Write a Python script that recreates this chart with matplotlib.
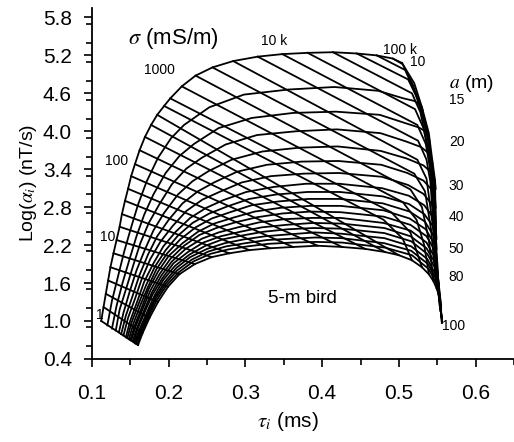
import matplotlib
matplotlib.use('Agg')
import matplotlib.pyplot as plt
from matplotlib.ticker import MultipleLocator

plt.rcParams['font.family'] = ['Liberation Sans', 'DejaVu Sans']
plt.rcParams['mathtext.fontset'] = 'stix'

# radius of the body, one curve each (m)
radius = [10, 15, 20, 25, 30, 35, 40, 45, 50, 55, 60, 65, 70, 75, 80, 85, 90, 95, 100]

# a = 10 m curve (upper / left edge), one node per conductivity step
# (6 steps per decade, 1 mS/m ... 100k mS/m)
tau_a10 = [0.112, 0.115, 0.118, 0.121, 0.124, 0.128, 0.132, 0.136, 0.139, 0.143, 0.147,
           0.151, 0.156, 0.162, 0.169, 0.177, 0.185, 0.194, 0.202, 0.217, 0.235,
           0.257, 0.284, 0.316, 0.348, 0.381, 0.414, 0.445, 0.471, 0.492, 0.504]
log_a10 = [1.00, 1.22, 1.43, 1.64, 1.85, 2.07, 2.28, 2.49, 2.69, 2.90, 3.09,
           3.29, 3.48, 3.70, 3.91, 4.10, 4.26, 4.40, 4.52, 4.71, 4.88,
           5.01, 5.11, 5.18, 5.22, 5.24, 5.25, 5.23, 5.20, 5.15, 5.08]

# a = 100 m curve (lower edge), same conductivity steps
tau_a100 = [0.160, 0.166, 0.175, 0.186, 0.199, 0.214, 0.234, 0.256, 0.279, 0.305, 0.332,
            0.362, 0.394, 0.426, 0.456, 0.482, 0.500, 0.517, 0.530, 0.539, 0.545,
            0.549, 0.552, 0.553, 0.555, 0.555, 0.555, 0.556, 0.556, 0.556, 0.556]
log_a100 = [0.62, 0.81, 1.05, 1.30, 1.54, 1.74, 1.90, 2.01, 2.07, 2.12, 2.15,
            2.17, 2.19, 2.17, 2.14, 2.09, 2.04, 1.96, 1.85, 1.74, 1.63,
            1.52, 1.41, 1.32, 1.24, 1.17, 1.11, 1.06, 1.03, 1.00, 0.97]

# radius curves in between
tau_a = {
    15: [0.120, 0.126, 0.134, 0.142, 0.151, 0.160, 0.171, 0.186, 0.203, 0.220, 0.253, 0.298, 0.356, 0.416, 0.473, 0.506, 0.520, 0.528, 0.530, 0.531],
    20: [0.126, 0.132, 0.140, 0.149, 0.158, 0.168, 0.180, 0.196, 0.214, 0.233, 0.265, 0.308, 0.362, 0.418, 0.475, 0.508, 0.526, 0.537, 0.539, 0.540],
    25: [0.131, 0.136, 0.145, 0.154, 0.163, 0.174, 0.188, 0.204, 0.223, 0.243, 0.274, 0.315, 0.366, 0.419, 0.476, 0.509, 0.529, 0.540, 0.543, 0.544],
    30: [0.135, 0.141, 0.149, 0.158, 0.169, 0.180, 0.194, 0.212, 0.231, 0.252, 0.282, 0.322, 0.370, 0.420, 0.476, 0.510, 0.532, 0.544, 0.547, 0.548],
    35: [0.138, 0.144, 0.153, 0.162, 0.173, 0.185, 0.200, 0.218, 0.238, 0.259, 0.289, 0.328, 0.373, 0.421, 0.477, 0.511, 0.532, 0.544, 0.547, 0.548],
    40: [0.141, 0.147, 0.156, 0.165, 0.176, 0.189, 0.205, 0.223, 0.244, 0.266, 0.295, 0.333, 0.376, 0.422, 0.478, 0.512, 0.532, 0.544, 0.547, 0.548],
    45: [0.144, 0.150, 0.159, 0.168, 0.180, 0.193, 0.209, 0.228, 0.249, 0.271, 0.301, 0.337, 0.379, 0.422, 0.478, 0.513, 0.533, 0.545, 0.548, 0.549],
    50: [0.146, 0.152, 0.161, 0.171, 0.182, 0.196, 0.212, 0.231, 0.253, 0.276, 0.305, 0.340, 0.381, 0.423, 0.479, 0.513, 0.533, 0.545, 0.548, 0.549],
    55: [0.148, 0.154, 0.163, 0.173, 0.184, 0.198, 0.215, 0.235, 0.256, 0.280, 0.308, 0.343, 0.382, 0.423, 0.479, 0.514, 0.534, 0.545, 0.548, 0.549],
    60: [0.150, 0.156, 0.165, 0.174, 0.186, 0.200, 0.218, 0.238, 0.259, 0.283, 0.312, 0.346, 0.384, 0.424, 0.480, 0.514, 0.535, 0.546, 0.549, 0.550],
    65: [0.151, 0.157, 0.166, 0.176, 0.188, 0.202, 0.220, 0.240, 0.262, 0.287, 0.315, 0.348, 0.385, 0.424, 0.480, 0.515, 0.536, 0.547, 0.550, 0.551],
    70: [0.153, 0.159, 0.168, 0.178, 0.190, 0.204, 0.222, 0.243, 0.265, 0.290, 0.318, 0.351, 0.387, 0.424, 0.480, 0.515, 0.536, 0.547, 0.550, 0.551],
    75: [0.154, 0.160, 0.169, 0.179, 0.192, 0.206, 0.225, 0.245, 0.268, 0.293, 0.321, 0.353, 0.388, 0.425, 0.481, 0.515, 0.536, 0.548, 0.551, 0.552],
    80: [0.155, 0.162, 0.171, 0.181, 0.193, 0.208, 0.227, 0.248, 0.270, 0.295, 0.323, 0.355, 0.389, 0.425, 0.481, 0.516, 0.537, 0.549, 0.552, 0.553],
    85: [0.156, 0.163, 0.172, 0.182, 0.195, 0.210, 0.228, 0.250, 0.273, 0.298, 0.326, 0.357, 0.390, 0.425, 0.481, 0.516, 0.537, 0.549, 0.552, 0.553],
    90: [0.157, 0.164, 0.173, 0.183, 0.196, 0.211, 0.230, 0.252, 0.275, 0.300, 0.328, 0.359, 0.391, 0.425, 0.481, 0.516, 0.538, 0.550, 0.553, 0.554],
    95: [0.159, 0.165, 0.174, 0.184, 0.197, 0.213, 0.232, 0.254, 0.277, 0.303, 0.330, 0.361, 0.392, 0.426, 0.482, 0.517, 0.539, 0.551, 0.554, 0.555],
}
log_a = {
    15: [0.93, 1.32, 1.71, 2.10, 2.48, 2.84, 3.20, 3.58, 3.89, 4.10, 4.38, 4.58, 4.66, 4.70, 4.64, 4.52, 4.48, 4.42, 4.38, 4.33],
    20: [0.88, 1.24, 1.61, 1.98, 2.34, 2.68, 3.00, 3.34, 3.61, 3.80, 4.05, 4.21, 4.29, 4.31, 4.26, 4.13, 4.06, 3.98, 3.91, 3.83],
    25: [0.85, 1.18, 1.53, 1.89, 2.23, 2.55, 2.85, 3.16, 3.41, 3.58, 3.79, 3.94, 4.00, 4.03, 3.97, 3.84, 3.75, 3.64, 3.56, 3.45],
    30: [0.82, 1.13, 1.46, 1.80, 2.13, 2.43, 2.71, 3.00, 3.21, 3.37, 3.55, 3.68, 3.74, 3.76, 3.69, 3.57, 3.46, 3.33, 3.22, 3.09],
    35: [0.79, 1.08, 1.40, 1.73, 2.05, 2.34, 2.60, 2.86, 3.05, 3.19, 3.36, 3.47, 3.52, 3.53, 3.47, 3.34, 3.22, 3.06, 2.94, 2.79],
    40: [0.77, 1.05, 1.35, 1.67, 1.98, 2.25, 2.50, 2.74, 2.92, 3.04, 3.19, 3.29, 3.33, 3.34, 3.28, 3.15, 3.01, 2.83, 2.70, 2.53],
    45: [0.74, 1.01, 1.31, 1.62, 1.91, 2.18, 2.41, 2.63, 2.79, 2.91, 3.04, 3.12, 3.17, 3.17, 3.10, 2.98, 2.83, 2.63, 2.48, 2.30],
    50: [0.73, 0.99, 1.28, 1.58, 1.86, 2.12, 2.35, 2.55, 2.70, 2.81, 2.93, 3.00, 3.04, 3.04, 2.97, 2.85, 2.69, 2.49, 2.33, 2.14],
    55: [0.71, 0.96, 1.25, 1.54, 1.82, 2.07, 2.29, 2.48, 2.62, 2.72, 2.83, 2.89, 2.93, 2.93, 2.86, 2.73, 2.57, 2.35, 2.18, 1.98],
    60: [0.70, 0.94, 1.22, 1.51, 1.78, 2.03, 2.23, 2.41, 2.54, 2.63, 2.73, 2.79, 2.82, 2.82, 2.75, 2.62, 2.45, 2.22, 2.05, 1.84],
    65: [0.69, 0.92, 1.19, 1.48, 1.74, 1.98, 2.19, 2.36, 2.47, 2.56, 2.64, 2.70, 2.73, 2.72, 2.65, 2.52, 2.34, 2.11, 1.93, 1.71],
    70: [0.68, 0.90, 1.17, 1.45, 1.71, 1.94, 2.14, 2.30, 2.40, 2.48, 2.56, 2.61, 2.63, 2.63, 2.55, 2.43, 2.24, 2.00, 1.81, 1.58],
    75: [0.67, 0.89, 1.15, 1.42, 1.68, 1.91, 2.09, 2.24, 2.34, 2.41, 2.48, 2.52, 2.55, 2.54, 2.47, 2.34, 2.15, 1.90, 1.70, 1.47],
    80: [0.66, 0.87, 1.12, 1.39, 1.65, 1.87, 2.05, 2.19, 2.29, 2.35, 2.41, 2.45, 2.47, 2.46, 2.39, 2.26, 2.06, 1.80, 1.60, 1.36],
    85: [0.65, 0.85, 1.10, 1.37, 1.62, 1.84, 2.01, 2.14, 2.23, 2.29, 2.34, 2.37, 2.40, 2.38, 2.31, 2.18, 1.98, 1.71, 1.50, 1.25],
    90: [0.64, 0.84, 1.09, 1.35, 1.59, 1.80, 1.97, 2.10, 2.18, 2.23, 2.28, 2.30, 2.32, 2.31, 2.23, 2.11, 1.90, 1.63, 1.42, 1.16],
    95: [0.63, 0.83, 1.07, 1.32, 1.56, 1.77, 1.94, 2.06, 2.13, 2.18, 2.22, 2.24, 2.25, 2.24, 2.16, 2.04, 1.82, 1.54, 1.32, 1.06],
}

# high-conductivity lines bend down into the late-time bundle:
# inner points (tau, log) between the a=10 and a=100 nodes, by step index
sigma_bend = {
    17: [(0.480, 2.60), (0.505, 2.30)],
    18: [(0.490, 2.72), (0.515, 2.40)],
    19: [(0.505, 2.88), (0.523, 2.60), (0.533, 2.20)],
    20: [(0.515, 3.08), (0.530, 2.80), (0.539, 2.28)],
    21: [(0.520, 3.33), (0.534, 3.05), (0.542, 2.44)],
    22: [(0.524, 3.55), (0.536, 3.25), (0.544, 2.52)],
    23: [(0.525, 3.85), (0.536, 3.55), (0.541, 3.20), (0.545, 2.52)],
    24: [(0.524, 4.10), (0.535, 3.80), (0.540, 3.45), (0.544, 2.91), (0.547, 2.12)],
    25: [(0.521, 4.35), (0.532, 4.05), (0.538, 3.70), (0.542, 3.39), (0.545, 2.60), (0.548, 1.96)],
    26: [(0.517, 4.60), (0.528, 4.30), (0.534, 3.95), (0.540, 3.62), (0.544, 3.07), (0.547, 2.28), (0.549, 1.65)],
    27: [(0.512, 4.82), (0.524, 4.52), (0.532, 4.18), (0.538, 3.85), (0.542, 3.54), (0.545, 2.91), (0.548, 2.12), (0.551, 1.49)],
    28: [(0.508, 4.97), (0.519, 4.68), (0.529, 4.33), (0.538, 3.92), (0.542, 3.54), (0.545, 3.07), (0.547, 2.28), (0.550, 1.65)],
    29: [(0.505, 5.06), (0.518, 4.74), (0.529, 4.37), (0.538, 3.95), (0.542, 3.58), (0.546, 3.18), (0.548, 2.56), (0.549, 1.95), (0.552, 1.47)],
    30: [(0.520, 4.76), (0.530, 4.38), (0.539, 3.97), (0.543, 3.59), (0.547, 3.23), (0.548, 2.60), (0.549, 1.96), (0.552, 1.49)],
}

# labels along the edges
sigma_labels = ['1', '10', '100', '1000', '10 k', '100 k']
sigma_label_pos = [(0.1145, 1.10), (0.131, 2.33), (0.147, 3.53), (0.188, 4.97), (0.338, 5.42), (0.502, 5.28)]
sigma_label_ha = ['right', 'right', 'right', 'center', 'center', 'center']
a_labels = ['10', '15', '20', '30', '40', '50', '80', '100']
a_label_pos = [(0.515, 5.09), (0.565, 4.49), (0.565, 3.83), (0.565, 3.13),
               (0.565, 2.64), (0.565, 2.14), (0.565, 1.70), (0.556, 0.92)]

lw = 1.3
fig = plt.figure(figsize=(5.14, 4.42), dpi=100)
ax = fig.add_axes([0.179, 0.188, 0.821, 0.794])

# constant-radius curves
for r in radius:
    if r == 10:
        ax.plot(tau_a10, log_a10, color='black', lw=lw)
    elif r == 100:
        ax.plot(tau_a100, log_a100, color='black', lw=lw)
    else:
        ax.plot(tau_a[r], log_a[r], color='black', lw=lw)

# constant-conductivity lines
for k in range(len(tau_a10)):
    pts = [(tau_a10[k], log_a10[k])] + sigma_bend.get(k, []) + [(tau_a100[k], log_a100[k])]
    ax.plot([p[0] for p in pts], [p[1] for p in pts], color='black', lw=lw)

for txt, (x, y), ha in zip(sigma_labels, sigma_label_pos, sigma_label_ha):
    ax.text(x, y, txt, fontsize=10, ha=ha, va='center')
for txt, (x, y) in zip(a_labels, a_label_pos):
    ax.text(x, y, txt, fontsize=10, ha='left', va='center')

ax.text(0.147, 5.47, r'$\sigma$ (mS/m)', fontsize=16, ha='left', va='center')
ax.text(0.565, 4.76, r'$a$ (m)', fontsize=14, ha='left', va='center')
ax.text(0.329, 1.35, '5-m bird', fontsize=13.5, ha='left', va='center')

ax.set_xlim(0.1, 0.65)
ax.set_ylim(0.4, 5.95)
ax.set_xticks([0.1, 0.2, 0.3, 0.4, 0.5, 0.6])
ax.set_yticks([0.4, 1.0, 1.6, 2.2, 2.8, 3.4, 4.0, 4.6, 5.2, 5.8])
ax.xaxis.set_minor_locator(MultipleLocator(0.05))
ax.yaxis.set_minor_locator(MultipleLocator(0.3))
ax.tick_params(which='major', length=6, width=1.2, labelsize=15, direction='out')
ax.tick_params(which='minor', length=4, width=1.2, direction='out')
ax.tick_params(axis='y', which='major', pad=8.5)
ax.tick_params(axis='x', which='major', pad=12)
ax.spines['top'].set_visible(False)
ax.spines['right'].set_visible(False)
ax.spines['left'].set_linewidth(1.3)
ax.spines['bottom'].set_linewidth(1.3)

ax.set_xlabel(r'$\tau_i$ (ms)', fontsize=15)
ax.set_ylabel(r'Log($\alpha_i$) (nT/s)', fontsize=14)
ax.xaxis.set_label_coords(0.465, -0.145)
ax.yaxis.set_label_coords(-0.125, 0.5)

fig.savefig('out.png', dpi=100)
